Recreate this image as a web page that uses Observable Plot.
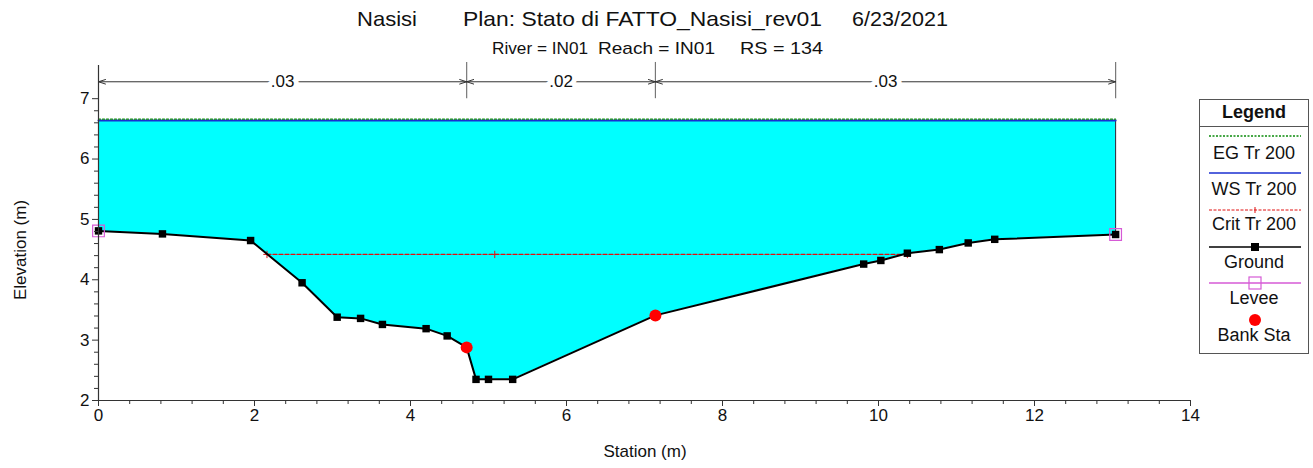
<!DOCTYPE html>
<html>
<head>
<meta charset="utf-8">
<script src="https://cdn.jsdelivr.net/npm/d3@7"></script>
<script src="https://cdn.jsdelivr.net/npm/@observablehq/plot@0.6"></script>
<style>
  html, body { margin: 0; padding: 0; background: #fff; }
  #wrap { position: relative; width: 1313px; height: 468px; font-family: "Liberation Sans", Arial, sans-serif; color: #111; overflow: hidden; }
  #chart { position: absolute; left: 0; top: 0; }
  .t { position: absolute; white-space: nowrap; line-height: 1; }
  #legend { position: absolute; left: 1199px; top: 99px; width: 108px; height: 253px; border: 1px solid #555; background: #fff; }
  #legend .lt { position: absolute; left: 0; width: 108px; text-align: center; font-size: 18px; line-height: 1; }
  #legend svg { position: absolute; left: 0; }
</style>
</head>
<body>
<div id="wrap">
  <div id="chart"></div>
  <div class="t" id="t1" style="left:357px; top:8px; font-size:21px;">Nasisi</div>
  <div class="t" id="t2" style="left:463px; top:8px; font-size:21px;">Plan: Stato di FATTO_Nasisi_rev01</div>
  <div class="t" id="t3" style="left:852px; top:8px; font-size:21px;">6/23/2021</div>
  <div class="t" id="s1" style="left:492px; top:40px; font-size:17px;">River = IN01</div>
  <div class="t" id="s2" style="left:598px; top:40px; font-size:17px;">Reach = IN01</div>
  <div class="t" id="s3" style="left:740px; top:40px; font-size:17px;">RS = 134</div>
  <div class="t" id="xl" style="left:645px; top:443px; font-size:17px; transform:translateX(-50%);">Station (m)</div>
  <div class="t" id="yl" style="left:20px; top:250px; font-size:17px; transform:translate(-50%,-50%) rotate(-90deg);">Elevation (m)</div>
  <div id="legend"></div>
</div>
<script>
// ---- data ----
const groundStation = [0, 0.82, 1.95, 2.61, 3.06, 3.36, 3.64, 4.20, 4.47, 4.72, 4.84, 5.00, 5.31, 7.14, 9.81, 10.03, 10.37, 10.78, 11.15, 11.49, 13.04];
const groundElev    = [4.81, 4.76, 4.65, 3.95, 3.38, 3.36, 3.26, 3.19, 3.07, 2.88, 2.35, 2.35, 2.35, 3.41, 4.26, 4.32, 4.44, 4.50, 4.61, 4.67, 4.75];
const bankStation = [4.72, 7.14];
const bankElev    = [2.88, 3.41];
const leveeStation = [0, 13.04];
const leveeElev    = [4.81, 4.75];
const wsElev = 6.64;      // WS Tr 200
const egElev = 6.66;      // EG Tr 200
const critElev = 4.42;    // Crit Tr 200
const critStation = [2.16, 10.37];
const critMarkStation = [2.16, 5.08, 10.37];
const nBounds = [0, 4.72, 7.14, 13.04];
const nLabels = [".03", ".02", ".03"];
const xTicks = [0, 2, 4, 6, 8, 10, 12, 14];
const yTicks = [2, 3, 4, 5, 6, 7];
const nArrowElev = 7.28;

// ---- build tables ----
const ground = groundStation.map((s, i) => ({s, e: groundElev[i]}));
const groundMarks = ground.filter(d => !bankStation.includes(d.s));
const banks = bankStation.map((s, i) => ({s, e: bankElev[i]}));
const levees = leveeStation.map((s, i) => ({s, e: leveeElev[i]}));
const xEnd = groundStation[groundStation.length - 1];
const surf = (v) => [{s: groundStation[0], e: v}, {s: xEnd, e: v}];
const crit = critStation.map(s => ({s, e: critElev}));
const critMarks = critMarkStation.map(s => ({s, e: critElev}));
const nSeg = nLabels.map((label, i) => ({a: nBounds[i], b: nBounds[i + 1], m: (nBounds[i] + nBounds[i + 1]) / 2, label}));
const xMinor = d3.range(1, 35).map(i => i * 0.4).filter((v, i) => (i + 1) % 5 !== 0);
const yMinor = d3.range(1, 25).map(i => 2 + i * 0.2).filter((v, i) => (i + 1) % 5 !== 0);

const font = '"Liberation Sans", Arial, sans-serif';

const chart = Plot.plot({
  width: 1313,
  height: 468,
  marginLeft: 98,
  marginRight: 123,
  marginTop: 68,
  marginBottom: 68,
  style: {fontFamily: font, fontSize: "17px", color: "#111", background: "transparent", overflow: "visible"},
  x: {domain: [0, 14]},
  y: {domain: [2, 7.5]},
  marks: [
    // water fill
    Plot.areaY(ground, {x: "s", y1: "e", y2: wsElev, fill: "#00ffff", curve: "linear"}),
    // right edge of water
    Plot.ruleX([xEnd], {y1: leveeElev[1], y2: wsElev, stroke: "#223", strokeWidth: 1}),
    // WS and EG
    Plot.line(surf(wsElev), {x: "s", y: "e", stroke: "#1a2fd0", strokeWidth: 2}),
    Plot.line(surf(egElev), {x: "s", y: "e", stroke: "#0a8a0a", strokeWidth: 1.2, strokeDasharray: "2,2"}),
    // Crit
    Plot.line(crit, {x: "s", y: "e", stroke: "#e01010", strokeWidth: 1.2, strokeDasharray: "4,2"}),
    Plot.dot(critMarks, {x: "s", y: "e", symbol: "plus", r: 2.5, stroke: "#e01010", strokeWidth: 1}),
    // Ground
    Plot.line(ground, {x: "s", y: "e", stroke: "#000", strokeWidth: 2}),
    Plot.dot(groundMarks, {x: "s", y: "e", symbol: "square", r: 4.2, fill: "#000"}),
    // Levees
    Plot.dot(levees, {x: "s", y: "e", symbol: "square", r: 6.6, fill: "none", stroke: "#d65ad6", strokeWidth: 1.2}),
    // Bank stations
    Plot.dot(banks, {x: "s", y: "e", r: 6, fill: "#ff0000"}),
    // axes lines
    Plot.ruleX([0], {y1: 2, y2: 7.55, stroke: "#333", strokeWidth: 1.2}),
    Plot.ruleY([2], {x1: 0, x2: 14, stroke: "#333", strokeWidth: 1.2}),
    // minor ticks
    Plot.ruleX(xMinor, {x: d => d, y1: 2, y2: 2, insetBottom: -4, stroke: "#333", strokeWidth: 1}),
    Plot.ruleY(yMinor, {y: d => d, x1: 0, x2: 0, insetLeft: -4, stroke: "#333", strokeWidth: 1}),
    // Manning n boundaries
    Plot.ruleX(nBounds.slice(1), {y1: 7.0, y2: 7.6, stroke: "#777", strokeWidth: 1.2}),
    Plot.arrow(nSeg, {x1: "m", x2: "a", y1: nArrowElev, y2: nArrowElev, stroke: "#333", strokeWidth: 1, headLength: 11, headAngle: 36}),
    Plot.arrow(nSeg, {x1: "m", x2: "b", y1: nArrowElev, y2: nArrowElev, stroke: "#333", strokeWidth: 1, headLength: 11, headAngle: 36}),
    Plot.text(nSeg, {x: "m", y: nArrowElev, text: "label", fontSize: 17, fill: "#111", stroke: "#fff", strokeWidth: 10, textAnchor: "middle", lineAnchor: "middle"}),
    // axes
    Plot.axisX({ticks: xTicks, tickSize: 6, tickPadding: 2, fontSize: 17, stroke: "#333", tickFormat: d => String(d), label: null}),
    Plot.axisY({ticks: yTicks, tickSize: 6, tickPadding: 3, fontSize: 17, stroke: "#333", tickFormat: d => String(d), label: null})
  ]
});
document.getElementById("chart").appendChild(chart);

// ---- legend ----
const legendItems = [
  {label: "EG Tr 200", kind: "eg", lineY: 36, textY: 44},
  {label: "WS Tr 200", kind: "ws", lineY: 73, textY: 80},
  {label: "Crit Tr 200", kind: "crit", lineY: 110, textY: 115},
  {label: "Ground", kind: "ground", lineY: 147, textY: 153},
  {label: "Levee", kind: "levee", lineY: 183, textY: 189},
  {label: "Bank Sta", kind: "bank", lineY: 220, textY: 226}
];
const lg = document.getElementById("legend");
lg.insertAdjacentHTML("beforeend", '<div class="lt" style="top:3px;font-weight:bold;">Legend</div>');
lg.insertAdjacentHTML("beforeend", '<div style="position:absolute;left:0;top:26px;width:108px;height:0;border-top:1px solid #555;"></div>');
for (const it of legendItems) {
  let svg = "";
  const y = 8;
  if (it.kind === "eg") svg = `<line x1="9" x2="101" y1="${y}" y2="${y}" stroke="#0a8a0a" stroke-width="1.5" stroke-dasharray="2,1.5"/>`;
  if (it.kind === "ws") svg = `<line x1="9" x2="101" y1="${y}" y2="${y}" stroke="#1a2fd0" stroke-width="1.5"/>`;
  if (it.kind === "crit") svg = `<line x1="9" x2="101" y1="${y}" y2="${y}" stroke="#e01010" stroke-width="1" stroke-dasharray="3,1.5"/><line x1="55" x2="55" y1="${y-3}" y2="${y+3}" stroke="#e01010"/>`;
  if (it.kind === "ground") svg = `<line x1="9" x2="101" y1="${y}" y2="${y}" stroke="#000" stroke-width="1.5"/><rect x="51" y="${y-4}" width="8" height="8" fill="#000"/>`;
  if (it.kind === "levee") svg = `<line x1="9" x2="101" y1="${y}" y2="${y}" stroke="#d65ad6" stroke-width="1.5"/><rect x="49" y="${y-6}" width="12" height="12" fill="none" stroke="#d65ad6" stroke-width="1.2"/>`;
  if (it.kind === "bank") svg = `<circle cx="55" cy="${y}" r="6" fill="#ff0000"/>`;
  lg.insertAdjacentHTML("beforeend", `<svg width="108" height="16" style="top:${it.lineY - 8}px">${svg}</svg>`);
  lg.insertAdjacentHTML("beforeend", `<div class="lt" style="top:${it.textY}px">${it.label}</div>`);
}

// fit title pieces to measured widths
const fits = {t1: 60, t2: 359, t3: 96, s1: 96, s2: 117, s3: 83};
for (const [id, w] of Object.entries(fits)) {
  const el = document.getElementById(id);
  const cur = el.getBoundingClientRect().width;
  if (cur > 0) { el.style.transformOrigin = "0 0"; el.style.transform = `scaleX(${w / cur})`; }
}
</script>
</body>
</html>
